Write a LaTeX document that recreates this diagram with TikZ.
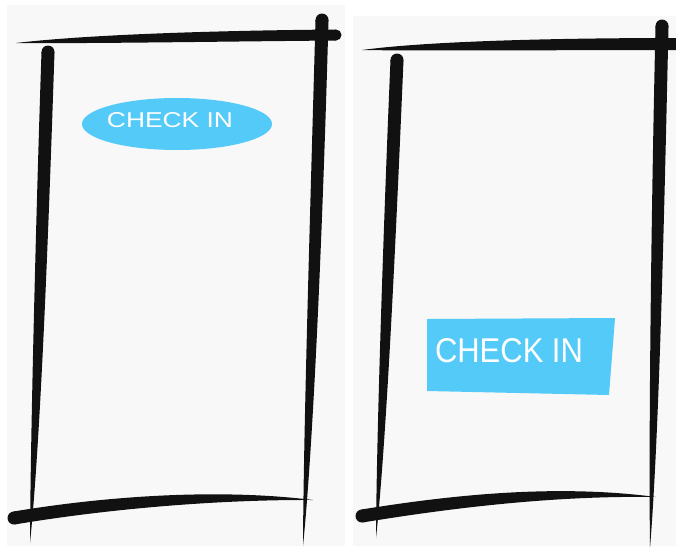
\documentclass[tikz,border=0pt]{standalone}
\usepackage{fontspec}
\usepackage{graphicx}
\setsansfont{Liberation Sans}
\usetikzlibrary{calc,shapes.geometric}
\definecolor{ink}{HTML}{111111}
\definecolor{btn}{RGB}{84,202,248}
\definecolor{paper}{HTML}{F8F8F8}
% tapered brush stroke: #1 thick end, #2 first control, #3 second control, #4 tip, #5 half width
\newcommand\brushc[5]{%
  \fill[ink] ($(#1)!#5pt!90:(#2)$)
    .. controls ($(#2)!#5pt!90:(#4)$) and ($(#3)!#5pt*0.85!90:(#4)$) .. (#4)
    .. controls ($(#3)!#5pt*0.85!-90:(#4)$) and ($(#2)!#5pt!-90:(#4)$) .. ($(#1)!#5pt!-90:(#2)$) -- cycle;
  \fill[ink] (#1) circle (#5pt);}
\begin{document}
\begin{tikzpicture}[x=1pt,y=-1pt,
  btntext/.style={text=white,inner sep=0pt,font=\sffamily}]
\useasboundingbox (0,0) rectangle (676,546);
\fill[white] (0,0) rectangle (676,546);
% panels
\fill[paper] (7,5) rectangle (345,546);
\fill[paper] (353,16) rectangle (676,546);
% left frame
\brushc{336,35}{220,36}{90,39}{16,43}{5.5}
\brushc{48,52}{43,200}{36,430}{30,543}{6.5}
\brushc{322,20}{317,200}{309,430}{303,546}{6.5}
\brushc{14,518}{110,502}{220,494}{313,500}{6.5}
% right frame
\brushc{678,44}{560,44}{430,46}{362,50}{6}
\brushc{662,26}{658,200}{654,430}{650,548}{6.5}
\brushc{397,60}{391,200}{382,430}{376,538}{6.5}
\brushc{362,516}{460,500}{560,490}{656,497}{6.5}
% left button (ellipse)
\node[ellipse,fill=btn,minimum width=190pt,minimum height=52pt,inner sep=0pt] (b1) at (177,124) {};
\node[btntext] (t1) at (170,120) {\resizebox{126pt}{15pt}{CHECK IN}};
% right button (rectangle)
\fill[btn] (427,319) -- (615,318) -- (609,395) -- (427,391) -- cycle;
\coordinate (b2) at (519,356);
\node[btntext] (t2) at (509,351) {\resizebox{148pt}{24pt}{CHECK IN}};
\end{tikzpicture}
\end{document}
